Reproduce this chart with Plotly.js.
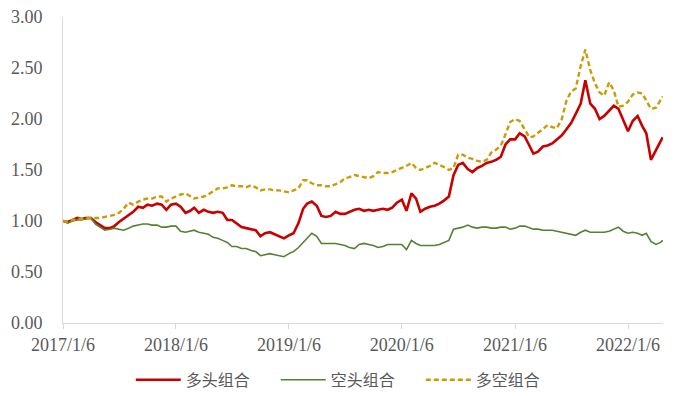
<!DOCTYPE html>
<html>
<head>
<meta charset="utf-8">
<script src="https://cdn.plot.ly/plotly-3.0.1.min.js"></script>
<style>html,body{margin:0;padding:0;background:#fff;}#chart{width:675px;height:396px;}</style>
</head>
<body>
<div id="chart"></div>
<script>
const dates = [
"2017-01-06","2017-01-21","2017-02-06","2017-02-21","2017-03-06","2017-03-21","2017-04-06","2017-04-21","2017-05-06","2017-05-21","2017-06-06","2017-06-21","2017-07-06","2017-07-21","2017-08-06","2017-08-21","2017-09-06","2017-09-21","2017-10-06","2017-10-21","2017-11-06","2017-11-21","2017-12-06","2017-12-21",
"2018-01-06","2018-01-21","2018-02-06","2018-02-21","2018-03-06","2018-03-21","2018-04-06","2018-04-21","2018-05-06","2018-05-21","2018-06-06","2018-06-21","2018-07-06","2018-07-21","2018-08-06","2018-08-21","2018-09-06","2018-09-21","2018-10-06","2018-10-21","2018-11-06","2018-11-21","2018-12-06","2018-12-21",
"2019-01-06","2019-01-21","2019-02-06","2019-02-21","2019-03-06","2019-03-21","2019-04-06","2019-04-21","2019-05-06","2019-05-21","2019-06-06","2019-06-21","2019-07-06","2019-07-21","2019-08-06","2019-08-21","2019-09-06","2019-09-21","2019-10-06","2019-10-21","2019-11-06","2019-11-21","2019-12-06","2019-12-21",
"2020-01-06","2020-01-21","2020-02-06","2020-02-21","2020-03-06","2020-03-21","2020-04-06","2020-04-21","2020-05-06","2020-05-21","2020-06-06","2020-06-21","2020-07-06","2020-07-21","2020-08-06","2020-08-21","2020-09-06","2020-09-21","2020-10-06","2020-10-21","2020-11-06","2020-11-21","2020-12-06","2020-12-21",
"2021-01-06","2021-01-21","2021-02-06","2021-02-21","2021-03-06","2021-03-21","2021-04-06","2021-04-21","2021-05-06","2021-05-21","2021-06-06","2021-06-21","2021-07-06","2021-07-21","2021-08-06","2021-08-21","2021-09-06","2021-09-21","2021-10-06","2021-10-21","2021-11-06","2021-11-21","2021-12-06","2021-12-21",
"2022-01-06","2022-01-21","2022-02-06","2022-02-21","2022-03-06","2022-03-21","2022-04-06","2022-04-21","2022-04-28"
];
const longValues = [
1.00,0.99,1.01,1.03,1.02,1.03,1.03,0.99,0.96,0.93,0.93,0.95,0.99,1.02,1.06,1.09,1.14,1.13,1.16,1.15,1.17,1.16,1.11,1.16,
1.17,1.14,1.08,1.10,1.13,1.08,1.11,1.09,1.08,1.09,1.08,1.01,1.01,0.98,0.94,0.93,0.92,0.91,0.85,0.88,0.89,0.87,0.85,0.83,
0.86,0.88,0.98,1.12,1.17,1.19,1.15,1.05,1.04,1.05,1.09,1.07,1.07,1.09,1.11,1.12,1.10,1.11,1.10,1.11,1.12,1.11,1.13,1.18,
1.21,1.10,1.27,1.22,1.09,1.12,1.14,1.15,1.17,1.20,1.24,1.45,1.55,1.57,1.51,1.48,1.52,1.54,1.57,1.58,1.60,1.63,1.75,1.80,
1.80,1.86,1.83,1.74,1.66,1.68,1.73,1.74,1.76,1.80,1.84,1.90,1.96,2.05,2.15,2.38,2.15,2.10,2.00,2.03,2.08,2.13,2.10,2.00,
1.88,1.98,2.03,1.93,1.86,1.60,1.70,1.78,1.82
];
const shortValues = [
1.00,0.98,1.00,1.01,1.01,1.02,1.03,0.97,0.94,0.91,0.92,0.93,0.92,0.91,0.93,0.95,0.96,0.97,0.97,0.96,0.96,0.94,0.94,0.95,
0.95,0.90,0.89,0.90,0.91,0.89,0.88,0.87,0.84,0.83,0.81,0.79,0.75,0.75,0.73,0.73,0.71,0.70,0.66,0.67,0.68,0.67,0.66,0.65,
0.68,0.70,0.74,0.79,0.83,0.88,0.85,0.78,0.78,0.78,0.78,0.77,0.76,0.74,0.73,0.77,0.78,0.77,0.76,0.74,0.75,0.77,0.77,0.77,
0.77,0.72,0.81,0.78,0.76,0.76,0.76,0.76,0.77,0.79,0.81,0.92,0.93,0.94,0.96,0.94,0.93,0.94,0.94,0.93,0.93,0.94,0.94,0.92,
0.93,0.95,0.95,0.93,0.92,0.92,0.91,0.91,0.91,0.90,0.89,0.88,0.87,0.86,0.89,0.91,0.89,0.89,0.89,0.89,0.90,0.92,0.94,0.90,
0.88,0.89,0.88,0.86,0.88,0.80,0.77,0.79,0.81
];
const longShortValues = [
1.00,0.99,1.01,1.02,1.02,1.03,1.03,1.03,1.03,1.04,1.05,1.06,1.08,1.12,1.18,1.16,1.19,1.21,1.22,1.22,1.24,1.24,1.19,1.22,
1.24,1.26,1.27,1.24,1.22,1.23,1.24,1.26,1.29,1.32,1.32,1.33,1.35,1.34,1.34,1.33,1.35,1.33,1.30,1.31,1.31,1.30,1.30,1.29,
1.28,1.30,1.32,1.40,1.40,1.37,1.35,1.35,1.34,1.34,1.36,1.38,1.42,1.43,1.45,1.44,1.43,1.42,1.44,1.48,1.47,1.47,1.48,1.50,
1.52,1.54,1.57,1.52,1.50,1.52,1.54,1.57,1.55,1.53,1.50,1.52,1.65,1.65,1.62,1.61,1.59,1.58,1.60,1.67,1.70,1.74,1.85,1.97,
2.00,1.98,1.90,1.82,1.83,1.86,1.90,1.94,1.92,1.91,2.00,2.18,2.27,2.30,2.52,2.68,2.48,2.35,2.26,2.23,2.36,2.28,2.12,2.13,
2.17,2.24,2.26,2.25,2.18,2.10,2.11,2.18,2.22
];
const seriesNames = ["多头组合","空头组合","多空组合"];
const tickDates = ["2017-01-06","2018-01-06","2019-01-06","2020-01-06","2021-01-06","2022-01-06"];
const tickLabels = ["2017/1/6","2018/1/6","2019/1/6","2020/1/6","2021/1/6","2022/1/6"];
const yTicks = [0,0.5,1,1.5,2,2.5,3];

const serif = "Liberation Serif, Times New Roman, serif";
const traces = [
  {x: dates, y: longValues, name: seriesNames[0], type: "scatter", mode: "lines",
   line: {color: "#C80000", width: 2.6}},
  {x: dates, y: shortValues, name: seriesNames[1], type: "scatter", mode: "lines",
   line: {color: "#548235", width: 1.6}},
  {x: dates, y: longShortValues, name: seriesNames[2], type: "scatter", mode: "lines",
   line: {color: "#CC9A06", width: 2.4, dash: "5px,3px"}}
];

const layout = {
  width: 675, height: 396,
  margin: {l: 63, r: 12, t: 17, b: 73, autoexpand: false},
  paper_bgcolor: "#fff", plot_bgcolor: "#fff",
  showlegend: true,
  legend: {orientation: "h", x: 0.113, xanchor: "left", y: -0.186, yanchor: "middle",
    font: {family: "Noto Sans CJK SC", size: 16, color: "#595959"},
    itemwidth: 45, entrywidth: 85, entrywidthmode: "pixels", traceorder: "normal"},
  xaxis: {type: "date", range: ["2017-01-06", "2022-04-29"], automargin: false,
    tickvals: tickDates, ticktext: tickLabels,
    showgrid: false, zeroline: false, showline: true, linecolor: "#D9D9D9", linewidth: 1,
    ticks: "outside", ticklen: 5, tickcolor: "#D9D9D9",
    tickfont: {family: serif, size: 18, color: "#595959"}},
  yaxis: {range: [0, 3], tickvals: yTicks, tickformat: ".2f", automargin: false,
    showgrid: false, zeroline: false, showline: true, linecolor: "#D9D9D9", linewidth: 1,
    ticks: "", ticklabelstandoff: 16,
    tickfont: {family: serif, size: 18, color: "#595959"}}
};

Plotly.newPlot("chart", traces, layout, {displayModeBar: false, staticPlot: true});
</script>
</body>
</html>
